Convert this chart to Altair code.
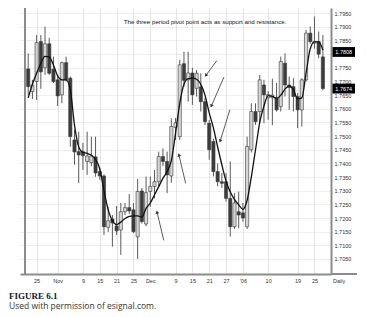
import json
import math
import altair as alt
import pandas as pd

# ---------------- data ----------------
day = list(range(71))
open_ = [1.7746, 1.7663, 1.7700, 1.7846, 1.7750, 1.7838, 1.7745, 1.7706, 1.7651, 1.7769,
         1.7712, 1.7486, 1.7443, 1.7443, 1.7407, 1.7403, 1.7424, 1.7370, 1.7354, 1.7166,
         1.7197, 1.7171, 1.7156, 1.7223, 1.7238, 1.7230, 1.7131, 1.7299, 1.7178, 1.7297,
         1.7315, 1.7333, 1.7425, 1.7407, 1.7354, 1.7532, 1.7498, 1.7765, 1.7706, 1.7731,
         1.7675, 1.7680, 1.7626, 1.7547, 1.7480, 1.7370, 1.7333, 1.7333, 1.7272, 1.7168,
         1.7223, 1.7219, 1.7168, 1.7450, 1.7590, 1.7590, 1.7687, 1.7640, 1.7640, 1.7640,
         1.7608, 1.7767, 1.7687, 1.7681, 1.7645, 1.7596, 1.7706, 1.7877, 1.7840, 1.7846,
         1.7790]
close = [1.7681, 1.7687, 1.7842, 1.7735, 1.7838, 1.7730, 1.7700, 1.7647, 1.7769, 1.7706,
         1.7498, 1.7442, 1.7431, 1.7428, 1.7427, 1.7427, 1.7365, 1.7354, 1.7168, 1.7190,
         1.7182, 1.7153, 1.7223, 1.7238, 1.7226, 1.7150, 1.7297, 1.7187, 1.7293, 1.7315,
         1.7333, 1.7425, 1.7407, 1.7358, 1.7535, 1.7549, 1.7761, 1.7704, 1.7731, 1.7651,
         1.7730, 1.7626, 1.7553, 1.7450, 1.7370, 1.7333, 1.7327, 1.7272, 1.7168, 1.7255,
         1.7211, 1.7200, 1.7462, 1.7590, 1.7553, 1.7706, 1.7651, 1.7652, 1.7650, 1.7596,
         1.7773, 1.7687, 1.7678, 1.7645, 1.7596, 1.7706, 1.7877, 1.7846, 1.7846, 1.7800,
         1.7674]
high = [1.7803, 1.7706, 1.7870, 1.7870, 1.7901, 1.7860, 1.7791, 1.7724, 1.7773, 1.7791,
        1.7718, 1.7523, 1.7516, 1.7475, 1.7516, 1.7498, 1.7498, 1.7384, 1.7360, 1.7241,
        1.7211, 1.7244, 1.7255, 1.7255, 1.7288, 1.7255, 1.7343, 1.7310, 1.7352, 1.7352,
        1.7376, 1.7443, 1.7455, 1.7443, 1.7565, 1.7566, 1.7779, 1.7809, 1.7809, 1.7750,
        1.7742, 1.7730, 1.7640, 1.7559, 1.7490, 1.7400, 1.7365, 1.7364, 1.7407, 1.7291,
        1.7297, 1.7255, 1.7498, 1.7620, 1.7620, 1.7724, 1.7706, 1.7665, 1.7710, 1.7695,
        1.7791, 1.7803, 1.7718, 1.7712, 1.7657, 1.7712, 1.7889, 1.7901, 1.7938, 1.7883,
        1.7870]
low = [1.7651, 1.7635, 1.7632, 1.7673, 1.7724, 1.7724, 1.7694, 1.7610, 1.7620, 1.7700,
       1.7461, 1.7395, 1.7328, 1.7376, 1.7358, 1.7390, 1.7351, 1.7340, 1.7138, 1.7149,
       1.7095, 1.7138, 1.7065, 1.7211, 1.7215, 1.7145, 1.7050, 1.7180, 1.7170, 1.7241,
       1.7272, 1.7315, 1.7390, 1.7291, 1.7329, 1.7486, 1.7486, 1.7681, 1.7626, 1.7614,
       1.7645, 1.7590, 1.7540, 1.7413, 1.7352, 1.7316, 1.7310, 1.7260, 1.7132, 1.7160,
       1.7162, 1.7186, 1.7160, 1.7440, 1.7541, 1.7547, 1.7547, 1.7560, 1.7540, 1.7590,
       1.7590, 1.7645, 1.7596, 1.7590, 1.7529, 1.7535, 1.7700, 1.7838, 1.7820, 1.7785,
       1.7668]
pivot = [1.7640, 1.7690, 1.7730, 1.7767, 1.7792, 1.7790, 1.7760, 1.7720, 1.7706, 1.7706,
         1.7670, 1.7540, 1.7460, 1.7440, 1.7437, 1.7430, 1.7415, 1.7380, 1.7300, 1.7230,
         1.7190, 1.7176, 1.7185, 1.7198, 1.7206, 1.7208, 1.7208, 1.7203, 1.7235, 1.7255,
         1.7285, 1.7315, 1.7345, 1.7370, 1.7410, 1.7510, 1.7620, 1.7690, 1.7710, 1.7712,
         1.7708, 1.7690, 1.7650, 1.7585, 1.7530, 1.7460, 1.7395, 1.7335, 1.7295, 1.7268,
         1.7248, 1.7232, 1.7265, 1.7350, 1.7450, 1.7550, 1.7610, 1.7648, 1.7645, 1.7638,
         1.7650, 1.7672, 1.7684, 1.7670, 1.7636, 1.7640, 1.7730, 1.7820, 1.7845, 1.7845,
         1.7815]

tick_pos = [2, 7, 13, 17, 21, 25, 29, 35, 39, 43, 47, 51, 57, 64, 68]
tick_lab = ["25", "Nov", "9", "15", "21", "25", "Dec", "9", "15", "21", "27", "'06", "10", "19", "25"]
price_ticks = [round(1.7050 + 0.005 * k, 4) for k in range(19)]
hidden_price_labels = [1.7800]  # covered by the black 1.7808 box in the original

box_vals = [1.7808, 1.7674]
box_text = ["1.7808", "1.7674"]

arrow_tx = [32.2, 37.4, 44.8, 46.5, 47.9]
arrow_ty = [1.7118, 1.7327, 1.7776, 1.7716, 1.7596]
arrow_hx = [30.6, 35.8, 42.2, 43.5, 45.6]
arrow_hy = [1.7222, 1.7431, 1.7722, 1.7610, 1.7482]

note = "The three period pivot point acts as support and resistance."
note_x, note_y = 22.7, 1.7909

# ---------------- layout ----------------
W, H = 311, 266
XMIN, XMAX = -0.76, 70.74
YMIN, YMAX = 1.6995, 1.7969
FONT = "Liberation Sans"

xs = alt.Scale(domain=[XMIN, XMAX], nice=False, zero=False)
ys = alt.Scale(domain=[YMIN, YMAX], nice=False, zero=False)

df = pd.DataFrame(dict(day=day, open=open_, high=high, low=low, close=close, pivot=pivot))
df["up"] = df["close"] >= df["open"]
df["top"] = df[["open", "close"]].max(axis=1)
df["bot"] = df[["open", "close"]].min(axis=1)

pxx = W / (XMAX - XMIN)
pxy = H / (YMAX - YMIN)
angles = []
for tx, ty, hx, hy in zip(arrow_tx, arrow_ty, arrow_hx, arrow_hy):
    dx = (hx - tx) * pxx
    dy = -(hy - ty) * pxy
    angles.append(math.degrees(math.atan2(dx, -dy)) % 360)
arrows = pd.DataFrame(dict(tx=arrow_tx, ty=arrow_ty, hx=arrow_hx, hy=arrow_hy, ang=angles))

label_expr = "[" + ",".join(json.dumps(l) for l in tick_lab) + "][indexof([" + \
    ",".join(str(p) for p in tick_pos) + "], datum.value)]"
ylabel_expr = "".join(f"abs(datum.value - {v}) < 0.00001 ? '' : " for v in hidden_price_labels) + \
    "format(datum.value, '.4f')"

xaxis = alt.Axis(values=tick_pos, labelExpr=label_expr, grid=True, gridColor="#dedede",
                 gridWidth=0.8, domain=True, domainColor="#8c8c8c", domainWidth=2,
                 ticks=False, labelFontSize=5.5, labelFont=FONT, labelColor="#333333",
                 labelPadding=4, title=None, labelOverlap=False, labelFlush=False)
yaxis = alt.Axis(orient="right", values=price_ticks, labelExpr=ylabel_expr, grid=True,
                 gridColor="#d4d4d4", gridDash=[1, 1], gridWidth=0.8, domain=True,
                 domainColor="#8c8c8c", domainWidth=2, ticks=False, labelFontSize=5.5,
                 labelFont=FONT, labelColor="#333333", labelPadding=3, title=None,
                 labelOverlap=False)


def X(field):
    return alt.X(field, scale=xs, axis=xaxis)


def Y(field):
    return alt.Y(field, scale=ys, axis=yaxis)


base = alt.Chart(df)

wicks = base.mark_rule(color="#5a5a5a", strokeWidth=1).encode(
    x=X("day:Q"), y=Y("low:Q"), y2="high:Q")

bodies = base.mark_bar(size=3.2, stroke="#3a3a3a", strokeWidth=0.6).encode(
    x=X("day:Q"), y=Y("bot:Q"), y2="top:Q",
    color=alt.condition("datum.up", alt.value("#d6d6d6"), alt.value("#3c3c3c")),
)

line = base.mark_line(color="#111111", strokeWidth=1.3, interpolate="monotone").encode(
    x=X("day:Q"), y=Y("pivot:Q"))

left_border = alt.Chart(pd.DataFrame({"x": [XMIN]})).mark_rule(
    color="#8c8c8c", strokeWidth=2).encode(x=X("x:Q"))

bottom_ext = alt.Chart(pd.DataFrame({"a": [0]})).mark_rule(
    color="#8c8c8c", strokeWidth=2).encode(
    x=alt.value(W), x2=alt.value(W + 26), y=alt.value(H))

shafts = alt.Chart(arrows).mark_rule(color="#333333", strokeWidth=0.8).encode(
    x=X("tx:Q"), y=Y("ty:Q"), x2="hx:Q", y2="hy:Q")
heads = alt.Chart(arrows).mark_point(shape="triangle-up", filled=True, size=14,
                                     color="#333333", opacity=1).encode(
    x=X("hx:Q"), y=Y("hy:Q"), angle=alt.Angle("ang:Q", scale=None))

note_layer = alt.Chart(pd.DataFrame({"t": [note], "x": [note_x], "y": [note_y]})).mark_text(
    align="left", baseline="alphabetic", fontSize=6.2, font=FONT,
    color="#111111").encode(x=X("x:Q"), y=Y("y:Q"), text="t:N")

boxes_df = pd.DataFrame({"v": box_vals, "t": box_text})
box_rect = alt.Chart(boxes_df).transform_calculate(
    lo="datum.v - 0.0018", hi="datum.v + 0.0018").mark_rect(color="#000000").encode(
    x=alt.value(W + 1.5), x2=alt.value(W + 24), y=Y("lo:Q"), y2="hi:Q")
box_lab = alt.Chart(boxes_df).mark_text(color="white", fontSize=5.5, font=FONT,
                                        align="center", baseline="middle").encode(
    x=alt.value(W + 12.7), y=Y("v:Q"), text="t:N")

daily = alt.Chart(pd.DataFrame({"t": ["Daily"]})).mark_text(
    align="left", baseline="middle", fontSize=5.5, font=FONT, color="#333333").encode(
    x=alt.value(W + 2), y=alt.value(H + 7), text="t:N")

fig = alt.Chart(pd.DataFrame({"t": ["FIGURE 6.1"]})).mark_text(
    align="left", baseline="alphabetic", fontSize=9, font="Liberation Serif",
    fontWeight="bold", color="#15152a").encode(
    x=alt.value(-11), y=alt.value(290.5), text="t:N")
credit = alt.Chart(pd.DataFrame({"t": ["Used with permission of esignal.com."]})).mark_text(
    align="left", baseline="alphabetic", fontSize=8.5, font="Open Sans",
    color="#333333").encode(
    x=alt.value(-11), y=alt.value(301), text="t:N")

chart = alt.layer(
    wicks, bodies, line, left_border, bottom_ext, shafts, heads, note_layer,
    box_rect, box_lab, daily, fig, credit
).properties(
    width=W, height=H,
    autosize=alt.AutoSizeParams(type="none"),
    padding={"left": 20, "top": 8, "right": 36, "bottom": 43},
    background="white",
).configure_view(stroke=None)

chart.save("out.html", embed_options={"renderer": "svg", "actions": False})
